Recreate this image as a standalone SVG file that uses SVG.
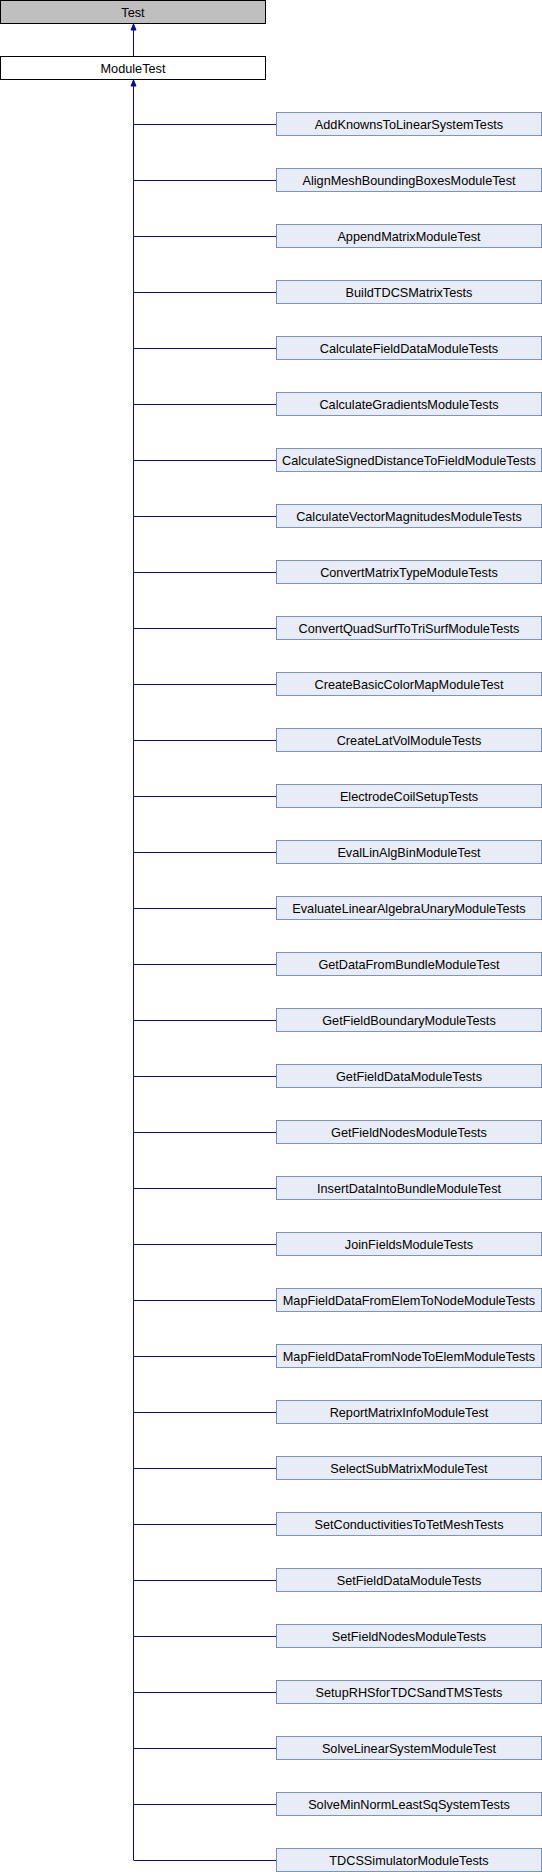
<svg xmlns="http://www.w3.org/2000/svg" width="542" height="1872" viewBox="0 0 542 1872">
<style>
text{font-family:"Liberation Sans",Arial,sans-serif;font-size:12.7px;text-anchor:middle;fill:#000}
.base{fill:#bfbfbf;stroke:#000;stroke-width:1}
.mid{fill:#fff;stroke:#000;stroke-width:1}
.child rect{fill:#e8ecf6;stroke:#7b93c6;stroke-width:1}
.edge{stroke:#0a0a95;stroke-width:1;fill:none}
.ah{fill:#0a0a95;stroke:#0a0a95;stroke-width:1}
</style>
<rect width="542" height="1872" fill="#fff"/>
<g id="connectors">
<path class="edge" d="M133.5,30V56"/>
<polygon class="ah" points="133.5,24 131,30 136,30"/>
<path class="edge" d="M133.5,86V1860"/>
<polygon class="ah" points="133.5,80 131,86 136,86"/>
<path class="edge" d="M133.5,124.5H276.5M133.5,180.5H276.5M133.5,236.5H276.5M133.5,292.5H276.5M133.5,348.5H276.5M133.5,404.5H276.5M133.5,460.5H276.5M133.5,516.5H276.5M133.5,572.5H276.5M133.5,628.5H276.5M133.5,684.5H276.5M133.5,740.5H276.5M133.5,796.5H276.5M133.5,852.5H276.5M133.5,908.5H276.5M133.5,964.5H276.5M133.5,1020.5H276.5M133.5,1076.5H276.5M133.5,1132.5H276.5M133.5,1188.5H276.5M133.5,1244.5H276.5M133.5,1300.5H276.5M133.5,1356.5H276.5M133.5,1412.5H276.5M133.5,1468.5H276.5M133.5,1524.5H276.5M133.5,1580.5H276.5M133.5,1636.5H276.5M133.5,1692.5H276.5M133.5,1748.5H276.5M133.5,1804.5H276.5M133.5,1860.5H276.5"/>
</g>
<g id="Test"><rect class="base" x="0.5" y="0.5" width="265" height="23"/><text x="133" y="16.5">Test</text></g>
<g id="ModuleTest"><rect class="mid" x="0.5" y="56.5" width="265" height="23"/><text x="133" y="72.5">ModuleTest</text></g>
<g id="n0" class="child"><rect x="276.5" y="112.5" width="265" height="23"/><text x="409" y="128.5">AddKnownsToLinearSystemTests</text></g>
<g id="n1" class="child"><rect x="276.5" y="168.5" width="265" height="23"/><text x="409" y="184.5">AlignMeshBoundingBoxesModuleTest</text></g>
<g id="n2" class="child"><rect x="276.5" y="224.5" width="265" height="23"/><text x="409" y="240.5">AppendMatrixModuleTest</text></g>
<g id="n3" class="child"><rect x="276.5" y="280.5" width="265" height="23"/><text x="409" y="296.5">BuildTDCSMatrixTests</text></g>
<g id="n4" class="child"><rect x="276.5" y="336.5" width="265" height="23"/><text x="409" y="352.5">CalculateFieldDataModuleTests</text></g>
<g id="n5" class="child"><rect x="276.5" y="392.5" width="265" height="23"/><text x="409" y="408.5">CalculateGradientsModuleTests</text></g>
<g id="n6" class="child"><rect x="276.5" y="448.5" width="265" height="23"/><text x="409" y="464.5">CalculateSignedDistanceToFieldModuleTests</text></g>
<g id="n7" class="child"><rect x="276.5" y="504.5" width="265" height="23"/><text x="409" y="520.5">CalculateVectorMagnitudesModuleTests</text></g>
<g id="n8" class="child"><rect x="276.5" y="560.5" width="265" height="23"/><text x="409" y="576.5">ConvertMatrixTypeModuleTests</text></g>
<g id="n9" class="child"><rect x="276.5" y="616.5" width="265" height="23"/><text x="409" y="632.5">ConvertQuadSurfToTriSurfModuleTests</text></g>
<g id="n10" class="child"><rect x="276.5" y="672.5" width="265" height="23"/><text x="409" y="688.5">CreateBasicColorMapModuleTest</text></g>
<g id="n11" class="child"><rect x="276.5" y="728.5" width="265" height="23"/><text x="409" y="744.5">CreateLatVolModuleTests</text></g>
<g id="n12" class="child"><rect x="276.5" y="784.5" width="265" height="23"/><text x="409" y="800.5">ElectrodeCoilSetupTests</text></g>
<g id="n13" class="child"><rect x="276.5" y="840.5" width="265" height="23"/><text x="409" y="856.5">EvalLinAlgBinModuleTest</text></g>
<g id="n14" class="child"><rect x="276.5" y="896.5" width="265" height="23"/><text x="409" y="912.5">EvaluateLinearAlgebraUnaryModuleTests</text></g>
<g id="n15" class="child"><rect x="276.5" y="952.5" width="265" height="23"/><text x="409" y="968.5">GetDataFromBundleModuleTest</text></g>
<g id="n16" class="child"><rect x="276.5" y="1008.5" width="265" height="23"/><text x="409" y="1024.5">GetFieldBoundaryModuleTests</text></g>
<g id="n17" class="child"><rect x="276.5" y="1064.5" width="265" height="23"/><text x="409" y="1080.5">GetFieldDataModuleTests</text></g>
<g id="n18" class="child"><rect x="276.5" y="1120.5" width="265" height="23"/><text x="409" y="1136.5">GetFieldNodesModuleTests</text></g>
<g id="n19" class="child"><rect x="276.5" y="1176.5" width="265" height="23"/><text x="409" y="1192.5">InsertDataIntoBundleModuleTest</text></g>
<g id="n20" class="child"><rect x="276.5" y="1232.5" width="265" height="23"/><text x="409" y="1248.5">JoinFieldsModuleTests</text></g>
<g id="n21" class="child"><rect x="276.5" y="1288.5" width="265" height="23"/><text x="409" y="1304.5">MapFieldDataFromElemToNodeModuleTests</text></g>
<g id="n22" class="child"><rect x="276.5" y="1344.5" width="265" height="23"/><text x="409" y="1360.5">MapFieldDataFromNodeToElemModuleTests</text></g>
<g id="n23" class="child"><rect x="276.5" y="1400.5" width="265" height="23"/><text x="409" y="1416.5">ReportMatrixInfoModuleTest</text></g>
<g id="n24" class="child"><rect x="276.5" y="1456.5" width="265" height="23"/><text x="409" y="1472.5">SelectSubMatrixModuleTest</text></g>
<g id="n25" class="child"><rect x="276.5" y="1512.5" width="265" height="23"/><text x="409" y="1528.5">SetConductivitiesToTetMeshTests</text></g>
<g id="n26" class="child"><rect x="276.5" y="1568.5" width="265" height="23"/><text x="409" y="1584.5">SetFieldDataModuleTests</text></g>
<g id="n27" class="child"><rect x="276.5" y="1624.5" width="265" height="23"/><text x="409" y="1640.5">SetFieldNodesModuleTests</text></g>
<g id="n28" class="child"><rect x="276.5" y="1680.5" width="265" height="23"/><text x="409" y="1696.5">SetupRHSforTDCSandTMSTests</text></g>
<g id="n29" class="child"><rect x="276.5" y="1736.5" width="265" height="23"/><text x="409" y="1752.5">SolveLinearSystemModuleTest</text></g>
<g id="n30" class="child"><rect x="276.5" y="1792.5" width="265" height="23"/><text x="409" y="1808.5">SolveMinNormLeastSqSystemTests</text></g>
<g id="n31" class="child"><rect x="276.5" y="1848.5" width="265" height="23"/><text x="409" y="1864.5">TDCSSimulatorModuleTests</text></g>
</svg>
